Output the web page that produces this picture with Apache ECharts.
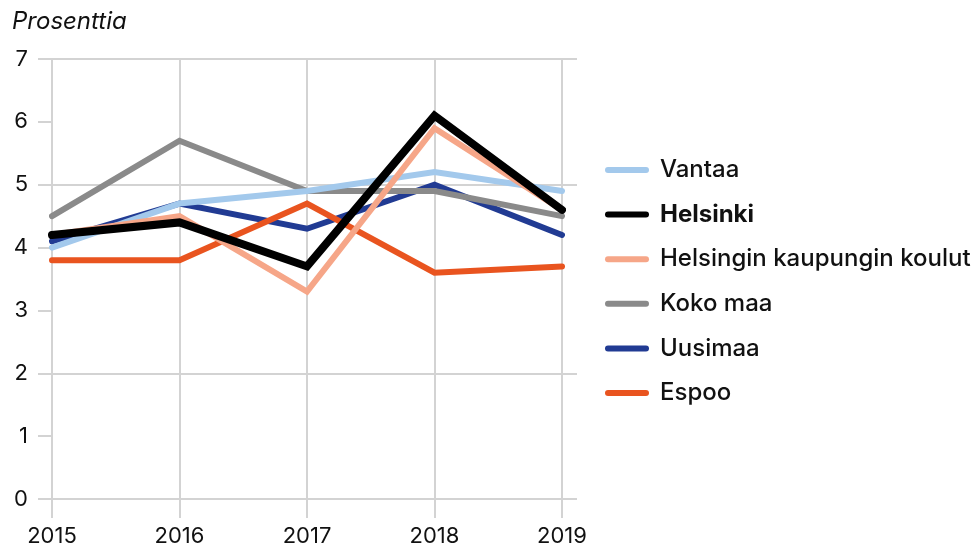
<!DOCTYPE html>
<html>
<head>
<meta charset="utf-8">
<script src="https://cdn.jsdelivr.net/npm/echarts@6/dist/echarts.min.js"></script>
<style>
    html, body {margin: 0; padding: 0; background: #fff;}
    #chart {width: 978px; height: 550px;}
</style>
</head>
<body>
<div id="chart"></div>
<script>
const years = ['2015', '2016', '2017', '2018', '2019']
const seriesNames = ['Vantaa', 'Helsinki', 'Helsingin kaupungin koulut', 'Koko maa', 'Uusimaa', 'Espoo']
const vantaa = [4.0, 4.7, 4.9, 5.2, 4.9]
const helsinki = [4.2, 4.4, 3.7, 6.1, 4.6]
const koulut = [4.2, 4.5, 3.3, 5.9, 4.6]
const kokoMaa = [4.5, 5.7, 4.9, 4.9, 4.5]
const uusimaa = [4.1, 4.7, 4.3, 5.0, 4.2]
const espoo = [3.8, 3.8, 4.7, 3.6, 3.7]
const yTicks = [0, 1, 2, 3, 4, 5, 6, 7]

const values = [vantaa, helsinki, koulut, kokoMaa, uusimaa, espoo]
const colors = ['#a3c9ec', '#000000', '#f6a688', '#8a8a8a', '#213b93', '#e9541f']
const widths = [6, 8, 6, 6, 6, 6]
const zs = [5, 9, 6, 3, 2, 4]
const font = 'Inter, "Noto Sans", sans-serif'
const gridColor = '#d3d3d3'

const myChart = echarts.init(document.getElementById('chart'))
myChart.setOption({
    animation: false,
    textStyle: {fontFamily: font},
    title: {
        text: 'Prosenttia',
        left: 7,
        top: 5,
        textStyle: {
            fontFamily: font,
            fontSize: 24,
            fontStyle: 'italic',
            fontWeight: 'normal',
            color: '#111',
        },
    },
    legend: {
        orient: 'vertical',
        left: 600,
        top: 153,
        itemWidth: 44,
        itemHeight: 6,
        itemGap: 20.6,
        icon: 'path://M3,0 H41 A3,3 0 0 1 41,6 H3 A3,3 0 0 1 3,0 Z',
        data: seriesNames.map((name) => ({
            name,
            textStyle: {fontWeight: name === 'Helsinki' ? 'bold' : 500},
        })),
        textStyle: {
            fontFamily: font,
            fontSize: 24,
            color: '#111',
            lineHeight: 24,
            padding: [0, 0, 0, 6],
        },
    },
    grid: [
        {left: 38, right: 401, top: 59, bottom: 51},
        {left: 52, right: 416, top: 59, bottom: 51},
    ],
    xAxis: [
        {gridIndex: 0, type: 'value', show: false, min: 0, max: 1},
        {
            gridIndex: 1,
            type: 'category',
            data: years,
            boundaryGap: false,
            axisLine: {show: false},
            axisTick: {show: true, length: 19, lineStyle: {color: gridColor, width: 2}},
            axisLabel: {fontFamily: font, fontSize: 22, color: '#111', margin: 26},
            splitLine: {show: true, lineStyle: {color: gridColor, width: 2}},
        },
    ],
    yAxis: [
        {
            gridIndex: 0,
            type: 'value',
            min: yTicks[0],
            max: yTicks[yTicks.length - 1],
            interval: 1,
            axisLabel: {show: false},
            axisLine: {show: false},
            axisTick: {show: false},
            splitLine: {
                show: true,
                lineStyle: {
                    color: [gridColor, 'transparent', gridColor, 'transparent', 'transparent', gridColor, 'transparent', gridColor],
                    width: 2,
                },
            },
        },
        {
            gridIndex: 1,
            type: 'value',
            min: yTicks[0],
            max: yTicks[yTicks.length - 1],
            interval: 1,
            axisLine: {show: false},
            axisTick: {show: true, length: 14, lineStyle: {color: gridColor, width: 2}},
            axisLabel: {fontFamily: font, fontSize: 22, color: '#111', margin: 24},
            splitLine: {show: false},
        },
    ],
    series: seriesNames.map((name, index) => {
        return {
            name,
            type: 'line',
            xAxisIndex: 1,
            yAxisIndex: 1,
            data: values[index],
            z: zs[index],
            showSymbol: false,
            symbol: 'none',
            color: colors[index],
            lineStyle: {
                color: colors[index],
                width: widths[index],
                cap: 'round',
                join: 'miter',
            },
        }
    }),
})
</script>
</body>
</html>
